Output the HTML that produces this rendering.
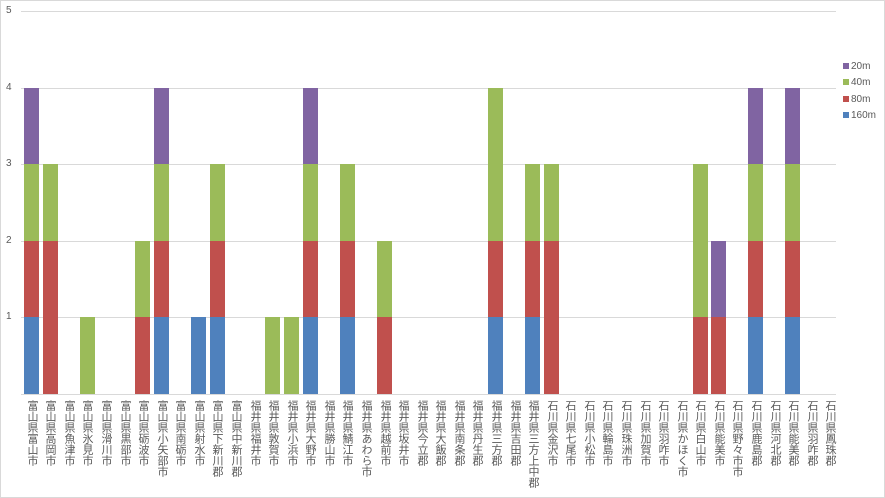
<!DOCTYPE html>
<html><head><meta charset="utf-8"><style>
body{margin:0;background:#fff;}
#c{position:relative;width:883px;height:496px;border:1px solid #d9d9d9;overflow:hidden;font-family:"Liberation Sans","Noto Sans CJK JP",sans-serif;color:#595959;}
.g{position:absolute;left:20px;width:815px;height:1px;background:#d9d9d9;}
.y{position:absolute;left:5px;font-size:10px;}
.b{position:absolute;width:15px;}
.l{position:absolute;top:399px;width:12px;font-size:11px;line-height:12px;writing-mode:vertical-rl;text-orientation:upright;white-space:nowrap;letter-spacing:0;}
.lg{position:absolute;left:842px;font-size:10px;}
.lg i{display:inline-block;width:6px;height:6px;margin-right:2px;}
</style></head><body><div id="c">
<div class="g" style="top:10px"></div><div class="g" style="top:87px"></div><div class="g" style="top:163px"></div><div class="g" style="top:240px"></div><div class="g" style="top:316px"></div><div class="g" style="top:393px"></div>
<div class="y" style="top:4px">5</div><div class="y" style="top:81px">4</div><div class="y" style="top:157px">3</div><div class="y" style="top:234px">2</div><div class="y" style="top:310px">1</div>
<!-- bars -->
<div class="b" style="left:23px;top:316px;height:77px;background:#4f81bd"></div><div class="b" style="left:23px;top:240px;height:76px;background:#c0504d"></div><div class="b" style="left:23px;top:163px;height:77px;background:#9bbb59"></div><div class="b" style="left:23px;top:87px;height:76px;background:#8064a2"></div>
<div class="b" style="left:42px;top:240px;height:153px;background:#c0504d"></div><div class="b" style="left:42px;top:163px;height:77px;background:#9bbb59"></div>
<div class="b" style="left:79px;top:316px;height:77px;background:#9bbb59"></div>
<div class="b" style="left:134px;top:316px;height:77px;background:#c0504d"></div><div class="b" style="left:134px;top:240px;height:76px;background:#9bbb59"></div>
<div class="b" style="left:153px;top:316px;height:77px;background:#4f81bd"></div><div class="b" style="left:153px;top:240px;height:76px;background:#c0504d"></div><div class="b" style="left:153px;top:163px;height:77px;background:#9bbb59"></div><div class="b" style="left:153px;top:87px;height:76px;background:#8064a2"></div>
<div class="b" style="left:190px;top:316px;height:77px;background:#4f81bd"></div>
<div class="b" style="left:209px;top:316px;height:77px;background:#4f81bd"></div><div class="b" style="left:209px;top:240px;height:76px;background:#c0504d"></div><div class="b" style="left:209px;top:163px;height:77px;background:#9bbb59"></div>
<div class="b" style="left:264px;top:316px;height:77px;background:#9bbb59"></div>
<div class="b" style="left:283px;top:316px;height:77px;background:#9bbb59"></div>
<div class="b" style="left:302px;top:316px;height:77px;background:#4f81bd"></div><div class="b" style="left:302px;top:240px;height:76px;background:#c0504d"></div><div class="b" style="left:302px;top:163px;height:77px;background:#9bbb59"></div><div class="b" style="left:302px;top:87px;height:76px;background:#8064a2"></div>
<div class="b" style="left:339px;top:316px;height:77px;background:#4f81bd"></div><div class="b" style="left:339px;top:240px;height:76px;background:#c0504d"></div><div class="b" style="left:339px;top:163px;height:77px;background:#9bbb59"></div>
<div class="b" style="left:376px;top:316px;height:77px;background:#c0504d"></div><div class="b" style="left:376px;top:240px;height:76px;background:#9bbb59"></div>
<div class="b" style="left:487px;top:316px;height:77px;background:#4f81bd"></div><div class="b" style="left:487px;top:240px;height:76px;background:#c0504d"></div><div class="b" style="left:487px;top:87px;height:153px;background:#9bbb59"></div>
<div class="b" style="left:524px;top:316px;height:77px;background:#4f81bd"></div><div class="b" style="left:524px;top:240px;height:76px;background:#c0504d"></div><div class="b" style="left:524px;top:163px;height:77px;background:#9bbb59"></div>
<div class="b" style="left:543px;top:240px;height:153px;background:#c0504d"></div><div class="b" style="left:543px;top:163px;height:77px;background:#9bbb59"></div>
<div class="b" style="left:692px;top:316px;height:77px;background:#c0504d"></div><div class="b" style="left:692px;top:163px;height:153px;background:#9bbb59"></div>
<div class="b" style="left:710px;top:316px;height:77px;background:#c0504d"></div><div class="b" style="left:710px;top:240px;height:76px;background:#8064a2"></div>
<div class="b" style="left:747px;top:316px;height:77px;background:#4f81bd"></div><div class="b" style="left:747px;top:240px;height:76px;background:#c0504d"></div><div class="b" style="left:747px;top:163px;height:77px;background:#9bbb59"></div><div class="b" style="left:747px;top:87px;height:76px;background:#8064a2"></div>
<div class="b" style="left:784px;top:316px;height:77px;background:#4f81bd"></div><div class="b" style="left:784px;top:240px;height:76px;background:#c0504d"></div><div class="b" style="left:784px;top:163px;height:77px;background:#9bbb59"></div><div class="b" style="left:784px;top:87px;height:76px;background:#8064a2"></div>
<!-- labels -->
<div class="l" style="left:25px">富山県富山市</div>
<div class="l" style="left:43px">富山県高岡市</div>
<div class="l" style="left:62px">富山県魚津市</div>
<div class="l" style="left:80px">富山県氷見市</div>
<div class="l" style="left:99px">富山県滑川市</div>
<div class="l" style="left:118px">富山県黒部市</div>
<div class="l" style="left:136px">富山県砺波市</div>
<div class="l" style="left:155px">富山県小矢部市</div>
<div class="l" style="left:173px">富山県南砺市</div>
<div class="l" style="left:192px">富山県射水市</div>
<div class="l" style="left:210px">富山県下新川郡</div>
<div class="l" style="left:229px">富山県中新川郡</div>
<div class="l" style="left:248px">福井県福井市</div>
<div class="l" style="left:266px">福井県敦賀市</div>
<div class="l" style="left:285px">福井県小浜市</div>
<div class="l" style="left:303px">福井県大野市</div>
<div class="l" style="left:322px">福井県勝山市</div>
<div class="l" style="left:340px">福井県鯖江市</div>
<div class="l" style="left:359px">福井県あわら市</div>
<div class="l" style="left:378px">福井県越前市</div>
<div class="l" style="left:396px">福井県坂井市</div>
<div class="l" style="left:415px">福井県今立郡</div>
<div class="l" style="left:433px">福井県大飯郡</div>
<div class="l" style="left:452px">福井県南条郡</div>
<div class="l" style="left:470px">福井県丹生郡</div>
<div class="l" style="left:489px">福井県三方郡</div>
<div class="l" style="left:508px">福井県吉田郡</div>
<div class="l" style="left:526px">福井県三方上中郡</div>
<div class="l" style="left:545px">石川県金沢市</div>
<div class="l" style="left:563px">石川県七尾市</div>
<div class="l" style="left:582px">石川県小松市</div>
<div class="l" style="left:600px">石川県輪島市</div>
<div class="l" style="left:619px">石川県珠洲市</div>
<div class="l" style="left:638px">石川県加賀市</div>
<div class="l" style="left:656px">石川県羽咋市</div>
<div class="l" style="left:675px">石川県かほく市</div>
<div class="l" style="left:693px">石川県白山市</div>
<div class="l" style="left:712px">石川県能美市</div>
<div class="l" style="left:730px">石川県野々市市</div>
<div class="l" style="left:749px">石川県鹿島郡</div>
<div class="l" style="left:768px">石川県河北郡</div>
<div class="l" style="left:786px">石川県能美郡</div>
<div class="l" style="left:805px">石川県羽咋郡</div>
<div class="l" style="left:823px">石川県鳳珠郡</div>
<!-- legend -->
<div class="lg" style="top:60px"><i style="background:#8064a2"></i>20m</div>
<div class="lg" style="top:76px"><i style="background:#9bbb59"></i>40m</div>
<div class="lg" style="top:93px"><i style="background:#c0504d"></i>80m</div>
<div class="lg" style="top:109px"><i style="background:#4f81bd"></i>160m</div>
</div></body></html>
